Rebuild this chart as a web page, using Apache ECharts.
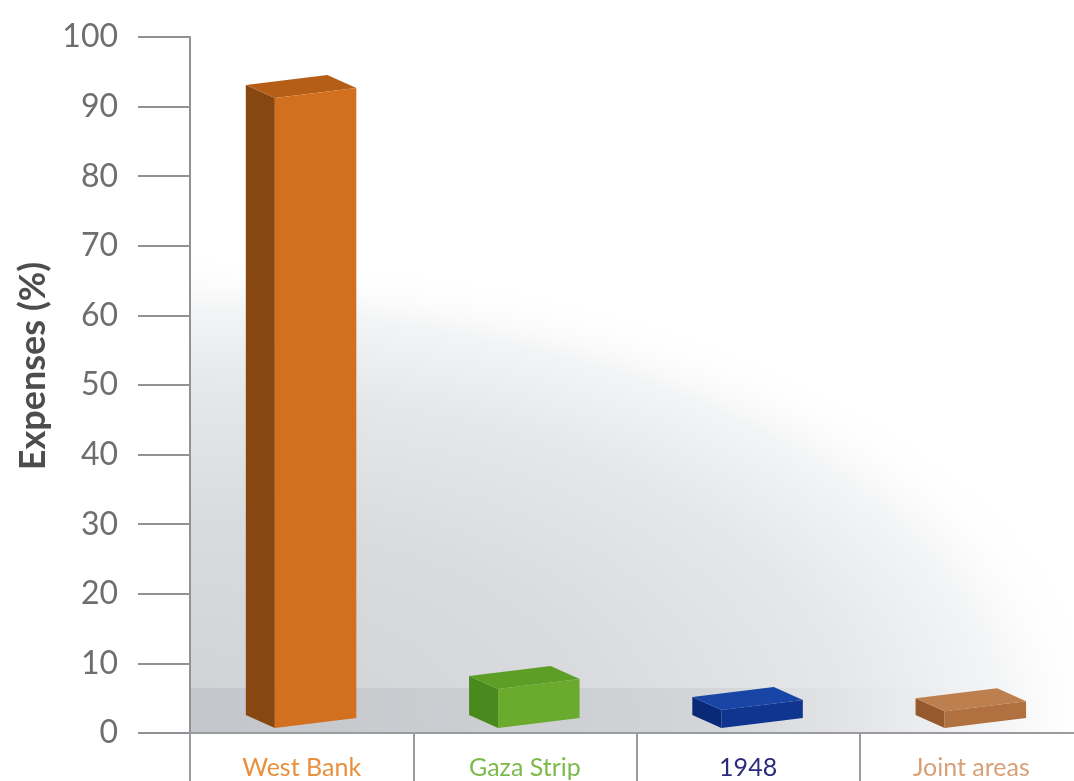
<!DOCTYPE html>
<html>
<head>
<meta charset="utf-8">
<script src="https://cdn.jsdelivr.net/npm/echarts@6/dist/echarts.min.js"></script>
<style>
html,body{margin:0;padding:0;background:#fff;}
#chart{width:1074px;height:781px;}
</style>
</head>
<body>
<div id="chart"></div>
<script>
const categories = ['West Bank', 'Gaza Strip', '1948', 'Joint areas'];
const values = [90.5, 5.6, 2.6, 2.4];
const yTicks = [0, 10, 20, 30, 40, 50, 60, 70, 80, 90, 100];
const labelColors = ['#e8903d', '#7cba4b', '#2b2b7c', '#d9a078'];
const frontColors = ['#d2701f', '#6aaa2c', '#0f3590', '#b07040'];
const sideColors = ['#874710', '#4a891e', '#0a2a78', '#96592e'];
const topColors = ['#b45e18', '#5c9e26', '#1946a6', '#bd7f4e'];

const chart = echarts.init(document.getElementById('chart'), null, {renderer: 'canvas'});

function renderBox(params, api) {
  const idx = params.dataIndex;
  const cat = api.value(0);
  const v = api.value(1);
  const base = api.coord([cat, 0]);
  const topPt = api.coord([cat, v]);
  const band = api.size([1, 0])[0];
  const lift = 5;
  const slope = 10;
  const dx = -29, dy = -13;
  const xl = base[0] - band * 0.12;
  const xr = xl + band * 0.365;
  const yb = base[1] - lift;
  const yt = topPt[1] - lift;
  const front = [[xl, yb], [xr, yb - slope], [xr, yt - slope], [xl, yt]];
  const side = [[xl, yb], [xl, yt], [xl + dx, yt + dy], [xl + dx, yb + dy]];
  const top = [[xl, yt], [xr, yt - slope], [xr + dx, yt - slope + dy], [xl + dx, yt + dy]];
  return {
    type: 'group',
    children: [
      {type: 'polygon', shape: {points: side}, style: {fill: sideColors[idx]}},
      {type: 'polygon', shape: {points: top}, style: {fill: topColors[idx]}},
      {type: 'polygon', shape: {points: front}, style: {fill: frontColors[idx]}}
    ]
  };
}

const option = {
  backgroundColor: '#ffffff',
  animation: false,
  grid: {left: 190, top: 37, width: 893, bottom: 48, outerBoundsMode: 'none', containLabel: false},
  graphic: [
    {
      type: 'sector',
      z: -10,
      x: 190, y: 733,
      scaleX: 9.2, scaleY: 4.8,
      shape: {cx: 0, cy: 0, r0: 0, r: 100, startAngle: -Math.PI / 2, endAngle: 0, clockwise: true},
      style: {
        fill: {
          type: 'radial', x: 0, y: 0, r: 100, global: true,
          colorStops: [
            {offset: 0, color: '#cfd1d5'},
            {offset: 0.45, color: '#d9dbde'},
            {offset: 0.72, color: '#e5e7e9'},
            {offset: 0.88, color: '#f3f4f5'},
            {offset: 1, color: 'rgba(255,255,255,0)'}
          ]
        }
      }
    },
    {
      type: 'rect',
      z: -9,
      x: 190, y: 688,
      shape: {x: 0, y: 0, width: 884, height: 45},
      style: {
        fill: {
          type: 'linear', x: 0, y: 0, x2: 1, y2: 0,
          colorStops: [
            {offset: 0, color: 'rgba(190,193,197,0.7)'},
            {offset: 0.6, color: 'rgba(200,203,207,0.5)'},
            {offset: 1, color: 'rgba(255,255,255,0)'}
          ]
        }
      }
    }
  ],
  xAxis: {
    type: 'category',
    data: categories,
    boundaryGap: true,
    axisLine: {show: true, lineStyle: {color: '#9a9c9f', width: 2}},
    axisTick: {show: true, length: 60, interval: 0, lineStyle: {color: '#9a9c9f', width: 2}},
    axisLabel: {
      interval: 0,
      margin: 22,
      fontSize: 25,
      fontFamily: 'Lato',
      color: function (value, index) { return labelColors[categories.indexOf(value)]; }
    },
    splitLine: {show: false}
  },
  yAxis: {
    type: 'value',
    min: yTicks[0],
    max: yTicks[yTicks.length - 1],
    interval: 10,
    name: 'Expenses (%)',
    nameLocation: 'middle',
    nameRotate: 90,
    nameGap: 128,
    nameTextStyle: {fontSize: 36, fontWeight: 'bold', color: '#4d4d4d', fontFamily: 'Lato', padding: [0, 0, 0, 38]},
    axisLine: {show: true, lineStyle: {color: '#8f9396', width: 2}},
    axisTick: {show: true, length: 52, lineStyle: {color: '#8f9396', width: 2}},
    axisLabel: {margin: 72, fontSize: 32, color: '#6e6e6e', fontFamily: 'Lato'},
    splitLine: {show: false}
  },
  series: [{
    type: 'custom',
    renderItem: renderBox,
    data: values.map((v, i) => [i, v]),
    clip: false
  }]
};
chart.setOption(option);
</script>
</body>
</html>
